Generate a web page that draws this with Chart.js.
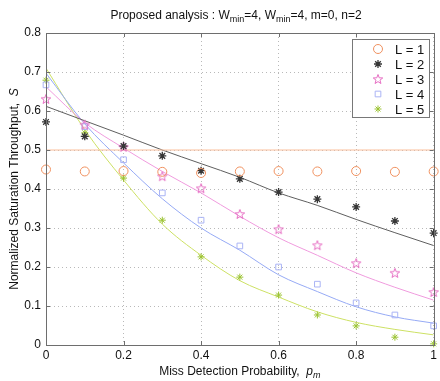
<!DOCTYPE html>
<html><head><meta charset="utf-8">
<script src="https://cdn.jsdelivr.net/npm/chart.js@4/dist/chart.umd.min.js"></script>
<style>html,body{margin:0;padding:0;background:#fff}#wrap{width:440px;height:381px}</style>
</head><body><div id="wrap"><canvas id="c" width="440" height="381"></canvas></div>
<script>
const pm = [0,0.1,0.2,0.3,0.4,0.5,0.6,0.7,0.8,0.9,1.0];
const xTicks = [0,0.2,0.4,0.6,0.8,1];
const yTicks = [0,0.1,0.2,0.3,0.4,0.5,0.6,0.7,0.8];
const legendLabels = ['L = 1','L = 2','L = 3','L = 4','L = 5'];
// analysis (lines)
const anaL1 = [0.5,0.5,0.5,0.5,0.5,0.5,0.5,0.5,0.5,0.5,0.5];
const anaL2 = [0.612,0.575,0.538,0.500,0.465,0.430,0.390,0.358,0.322,0.288,0.255];
const anaL3 = [0.662,0.570,0.505,0.445,0.390,0.330,0.275,0.230,0.185,0.148,0.115];
const anaL4 = [0.697,0.567,0.467,0.375,0.300,0.243,0.180,0.137,0.098,0.072,0.056];
const anaL5 = [0.710,0.552,0.423,0.310,0.230,0.165,0.123,0.085,0.058,0.040,0.026];
// simulation (markers)
const simL1 = [0.450,0.445,0.446,0.444,0.441,0.445,0.446,0.445,0.446,0.444,0.445];
const simL2 = [0.572,0.535,0.510,0.485,0.447,0.426,0.392,0.374,0.354,0.318,0.287];
const simL3 = [0.631,0.565,0.508,0.433,0.402,0.336,0.297,0.256,0.210,0.185,0.136];
const simL4 = [0.667,0.560,0.475,0.390,0.320,0.254,0.200,0.156,0.108,0.077,0.049];
const simL5 = [0.679,0.544,0.428,0.320,0.226,0.174,0.128,0.077,0.049,0.020,0.003];

const FONT = '"Liberation Sans", Arial, Helvetica, sans-serif';
const col = {
  l1m:'rgb(240,145,95)', l1l:'rgb(250,190,155)',
  l2m:'rgb(55,55,55)', l2l:'rgb(95,95,95)',
  l3m:'rgb(230,110,195)', l3l:'rgb(240,155,222)',
  l4m:'rgb(170,180,245)', l4l:'rgb(150,170,245)',
  l5m:'rgb(155,195,50)', l5l:'rgb(205,225,100)'
};
function pentagram(color, size){
  const c = document.createElement('canvas');
  c.width = size; c.height = size;
  const g = c.getContext('2d');
  const cx = size/2, cy = size/2+0.5, R = size/2-1, r = R*0.42;
  g.beginPath();
  for (let i=0;i<10;i++){
    const a = -Math.PI/2 + i*Math.PI/5;
    const rr = i%2===0 ? R : r;
    const x = cx + rr*Math.cos(a), y = cy + rr*Math.sin(a);
    if(i===0) g.moveTo(x,y); else g.lineTo(x,y);
  }
  g.closePath();
  g.strokeStyle = color; g.lineWidth = 1; g.stroke();
  return c;
}
const starImg = pentagram(col.l3m, 12);
const pts = (ys)=> pm.map((x,i)=>({x:x,y:ys[i]}));
function lineDs(ys,c){return {type:'line',data:pts(ys),borderColor:c,borderWidth:1,pointRadius:0,fill:false,cubicInterpolationMode:'monotone',order:2};}
function markDs(ys,c,style,r,bw){return {type:'scatter',data:pts(ys),borderColor:c,backgroundColor:'rgba(0,0,0,0)',pointStyle:style,pointRadius:r,pointBorderWidth:bw||1,showLine:false,clip:false,order:1};}
const markerSpecs = [
  {c:col.l1m, s:'circle', r:4.5, bw:1},
  {c:col.l2m, s:'star', r:4, bw:1.3},
  {c:col.l3m, s:starImg, r:5, bw:1},
  {c:col.l4m, s:'rect', r:4, bw:1},
  {c:col.l5m, s:'star', r:3.5, bw:1}
];
const datasets = [
  lineDs(anaL1,col.l1l), lineDs(anaL2,col.l2l), lineDs(anaL3,col.l3l), lineDs(anaL4,col.l4l), lineDs(anaL5,col.l5l),
  markDs(simL1,col.l1m,'circle',4.5,1), markDs(simL2,col.l2m,'star',4,1.3), markDs(simL3,col.l3m,starImg,5,1),
  markDs(simL4,col.l4m,'rect',4,1), markDs(simL5,col.l5m,'star',3.5,1)
];

function drawRuns(ctx, runs, x, y, align){
  let total = 0;
  runs.forEach(r=>{ctx.font=(r.italic?'italic ':'')+r.size+'px '+FONT; r.w=ctx.measureText(r.t).width; total+=r.w;});
  let cx = align==='center' ? x-total/2 : x;
  runs.forEach(r=>{ctx.font=(r.italic?'italic ':'')+r.size+'px '+FONT; ctx.fillText(r.t,cx,y+(r.dy||0)); cx+=r.w;});
}
const decor = {
  id:'decor',
  afterDraw(chart){
    const ctx = chart.ctx, a = chart.chartArea;
    ctx.save();
    ctx.strokeStyle = 'rgb(110,110,110)'; ctx.lineWidth = 1;
    ctx.strokeRect(Math.round(a.left)+0.5, Math.round(a.top)+0.5, Math.round(a.right-a.left), Math.round(a.bottom-a.top));
    const xs = chart.scales.x, ys = chart.scales.y;
    ctx.beginPath();
    xTicks.forEach(v=>{const px=Math.round(xs.getPixelForValue(v))+0.5; ctx.moveTo(px,a.bottom); ctx.lineTo(px,a.bottom-4); ctx.moveTo(px,a.top); ctx.lineTo(px,a.top+4);});
    yTicks.forEach(v=>{const py=Math.round(ys.getPixelForValue(v))+0.5; ctx.moveTo(a.left,py); ctx.lineTo(a.left+4,py); ctx.moveTo(a.right,py); ctx.lineTo(a.right-4,py);});
    ctx.stroke();
    ctx.fillStyle = '#111'; ctx.textBaseline = 'alphabetic'; ctx.textAlign = 'left';
    drawRuns(ctx,[{t:'Proposed analysis : W',size:12},{t:'min',size:9,dy:3},{t:'=4, W',size:12},{t:'min',size:9,dy:3},{t:'=4, m=0, n=2',size:12}],236,19,'center');
    drawRuns(ctx,[{t:'Miss Detection Probability,  ',size:12},{t:'p',size:12,italic:true},{t:'m',size:9,italic:true,dy:3}],(a.left+a.right)/2,375,'center');
    ctx.save();
    ctx.translate(18,(a.top+a.bottom)/2); ctx.rotate(-Math.PI/2);
    drawRuns(ctx,[{t:'Normalized Saturation Throughput,  ',size:12},{t:'S',size:12,italic:true}],0,0,'center');
    ctx.restore();
    const lx=352, ly=39, lw=77, lh=78;
    ctx.fillStyle='#fff'; ctx.fillRect(lx,ly,lw,lh);
    ctx.strokeStyle='rgb(120,120,120)'; ctx.strokeRect(lx+0.5,ly+0.5,lw,lh);
    ctx.font='13px '+FONT; ctx.fillStyle='#111'; ctx.textBaseline='middle';
    legendLabels.forEach((t,i)=>{
      const yy = ly+10+i*15;
      const m = markerSpecs[i];
      ctx.strokeStyle=m.c; ctx.fillStyle='rgba(0,0,0,0)'; ctx.lineWidth=m.bw;
      Chart.helpers.drawPoint(ctx,{pointStyle:m.s,radius:m.r,borderWidth:m.bw},378,yy);
      ctx.fillStyle='#111'; ctx.fillText(t,395,yy+1);
    });
    ctx.restore();
  }
};
new Chart(document.getElementById('c'),{
  type:'scatter',
  data:{datasets},
  options:{
    responsive:false, animation:false, devicePixelRatio:1,
    layout:{padding:{left:0,right:4,top:33,bottom:0}},
    plugins:{legend:{display:false},tooltip:{enabled:false},title:{display:false}},
    scales:{
      x:{type:'linear',min:0,max:1,
        afterBuildTicks:(s)=>{s.ticks=xTicks.map(v=>({value:v}));},
        afterFit:(s)=>{s.height=36;},
        ticks:{font:{family:FONT,size:12},color:'#111',padding:3,maxRotation:0,autoSkip:false,callback:(v)=>String(v)},
        grid:{color:'rgb(185,185,185)',drawTicks:false,lineWidth:1},
        border:{display:false,dash:[1,3]}},
      y:{type:'linear',min:0,max:0.8,
        afterBuildTicks:(s)=>{s.ticks=yTicks.map(v=>({value:v}));},
        afterFit:(s)=>{s.width=46;},
        ticks:{font:{family:FONT,size:12},color:'#111',padding:5,autoSkip:false,callback:(v)=>String(+v.toFixed(1))},
        grid:{color:'rgb(185,185,185)',drawTicks:false,lineWidth:1},
        border:{display:false,dash:[1,3]}}
    }
  },
  plugins:[decor]
});
</script></body></html>
